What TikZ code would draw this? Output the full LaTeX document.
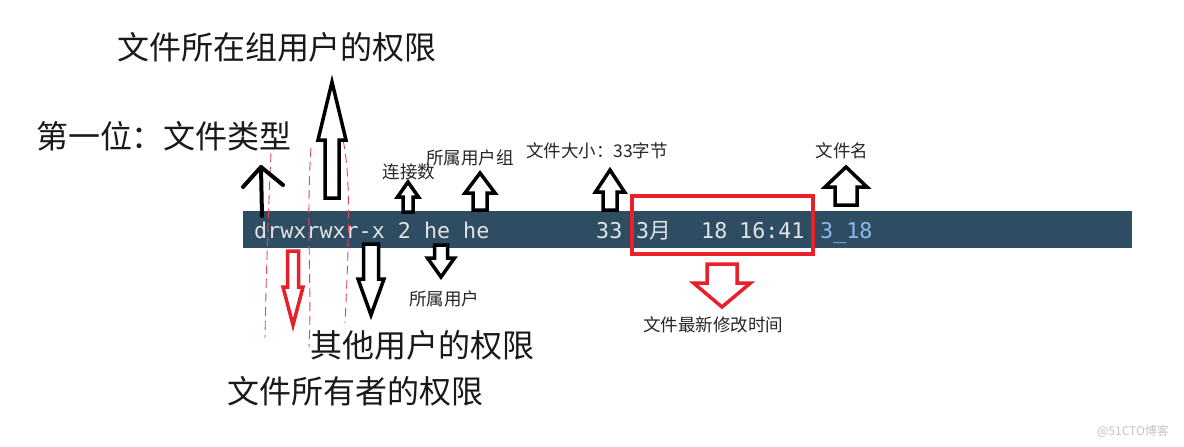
\documentclass[tikz,border=0pt]{standalone}
\usepackage{fontspec}
\newfontfamily\cjk{Noto Sans CJK SC}
\newfontfamily\mono{DejaVu Sans Mono}
\definecolor{barc}{HTML}{2E4D63}
\definecolor{termtxt}{HTML}{E2E2E2}
\definecolor{fileblue}{HTML}{8AB8EC}
\definecolor{markred}{HTML}{E8202A}
\definecolor{dashred}{HTML}{E04858}
\definecolor{wm}{HTML}{C4C4C4}
\newcommand\hollowarr[7][]{%
  \draw[#1] (#2,#3) -- ({#2+#5},#4) -- ({#2+#6},#4) -- ({#2+#6},#7)
     -- ({#2-#6},#7) -- ({#2-#6},#4) -- ({#2-#5},#4) -- cycle;}
\begin{document}
\begin{tikzpicture}[x=1pt,y=-1pt,
  bigtxt/.style={font=\cjk\fontsize{32}{32}\selectfont, inner sep=0, text=black!90},
  smalltxt/.style={font=\cjk\fontsize{17.5}{17.5}\selectfont, inner sep=0, text=black!85},
  termfont/.style={font=\mono\fontsize{21.7}{21.7}\selectfont, inner sep=0, anchor=base west, text=termtxt},
  blackarr/.style={draw=black, fill=white, line width=3.5pt, line join=miter},
  redarr/.style={draw=markred, fill=white, line width=3.5pt, line join=miter},
  reddash/.style={draw=dashred, line width=0.9pt, dash pattern=on 9pt off 5pt}]
\useasboundingbox (0,0) rectangle (1184,447);
\fill[white] (0,0) rectangle (1184,447);

% terminal bar
\node[fill=barc, minimum width=889pt, minimum height=37pt, inner sep=0, anchor=north west] (bar) at (243,211) {};
\node[termfont] (perm) at (254,238) {drwxrwxr-x 2 he he};
\node[termfont] (size) at (596,238) {33};
\node[termfont] (month) at (636,238) {3{\cjk 月}};
\node[termfont] (day) at (701,238) {18};
\node[termfont] (time) at (739,238) {16:41};
\node[termfont, text=fileblue] (fname) at (820,238) {3\_18};

% red dashed guide lines
\draw[reddash] (271,153) .. controls (268,220) and (266,280) .. (265,338);
\draw[reddash] (311,148) .. controls (306,220) and (312,290) .. (309,347);
\draw[reddash] (343,140) .. controls (352,180) and (348,260) .. (345,323);

% red box around time
\draw[markred, line width=3.5pt] (632,196) rectangle (813,254);

% labels
\node[bigtxt] (grp) at (277,47) {文件所在组用户的权限};
\node[bigtxt] (type) at (164,136) {第一位：文件类型};
\node[bigtxt] (other) at (422,345) {其他用户的权限};
\node[bigtxt] (owner) at (355,391) {文件所有者的权限};
\node[smalltxt] (links) at (409,172) {连接数};
\node[smalltxt] (ugroup) at (470,158) {所属用户组};
\node[smalltxt] (fsize) at (597,151) {文件大小：33字节};
\node[smalltxt] (fnamel) at (842,151) {文件名};
\node[smalltxt] (user) at (444,299) {所属用户};
\node[smalltxt] (mtime) at (713,325) {文件最新修改时间};
\node[font=\cjk\fontsize{12}{12}\selectfont, text=wm, inner sep=0] (wmark) at (1133,431) {@51CTO博客};

% arrows
\draw[black, line width=4pt, line cap=round, line join=round] (262,216) -- (261,167);
\draw[black, line width=4pt, line cap=round, line join=round] (243,187) -- (261,167) -- (283,185);
\hollowarr[blackarr]{332}{82}{140}{14}{7}{198}
\hollowarr[redarr]{293}{325}{287}{10}{5.5}{251}
\hollowarr[blackarr]{371}{315}{279}{13}{7.5}{244}
\hollowarr[blackarr]{441}{277}{258}{13.5}{6.5}{245}
\hollowarr[blackarr]{408}{182}{197}{10.5}{5}{212}
\hollowarr[blackarr]{480}{173}{193}{15}{7}{210}
\hollowarr[blackarr]{610}{170}{192}{14.5}{7}{210}
\hollowarr[blackarr]{846}{167}{187}{21}{11}{205}
\hollowarr[redarr]{722}{307}{283}{28.5}{15}{264}
\end{tikzpicture}
\end{document}
